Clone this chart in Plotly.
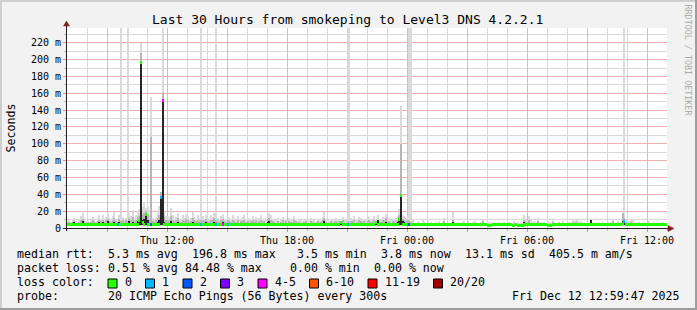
import plotly.graph_objects as go
import pandas as pd

# ---------------- data (values in milliseconds, one per 5-minute step) ----------------
START = "2025-12-11 07:00"
END = "2025-12-12 13:00"

median_ms = [
    4.2, 4.2, 4.1, 4.2, 4.3, 4.2, 4.2, 4.1, 4.2, 4.2, 4.3, 4.2, 4.2, 4.2, 4.1, 4.2, 4.4, 4.2, 4.2, 4.2,
    4.2, 4.3, 4.2, 4.2, 4.1, 4.2, 4.6, 4.2, 4.2, 4.3, 4.2, 4.2, 4.5, 4.2, 4.2, 4.2, 4.1, 4.2, 4.3, 4.2,
    4.2, 4.3, 4.4, 9.5, 197.0, 6.0, 4.6, 16.0, 4.3, 4.2, 4.2, 4.1, 4.2, 4.3, 4.2, 4.4, 36.0, 152.0, 4.3, 4.2,
    4.2, 4.2, 4.1, 4.2, 4.2, 4.2, 4.3, 4.2, 4.2, 4.2, 4.1, 4.2, 4.2, 4.2, 4.2, 4.3, 4.2, 4.2, 4.1, 4.2,
    4.2, 4.2, 4.2, 4.3, 4.2, 4.2, 4.1, 4.2, 4.2, 4.2, 4.2, 4.3, 4.2, 4.2, 4.2, 4.1, 4.2, 4.2, 4.2, 4.2,
    4.2, 4.1, 4.2, 4.2, 4.2, 4.3, 4.2, 4.2, 4.1, 4.2, 4.2, 4.2, 4.2, 4.1, 4.2, 4.2, 4.3, 4.2, 4.2, 4.2,
    4.2, 4.3, 4.2, 4.2, 4.1, 4.2, 4.2, 4.2, 4.2, 4.2, 4.1, 4.2, 4.2, 4.2, 4.3, 4.2, 4.2, 4.1, 4.2, 4.2,
    4.2, 4.2, 4.2, 4.1, 4.2, 4.2, 4.2, 4.3, 4.2, 4.2, 4.2, 4.2, 4.1, 4.2, 4.2, 4.2, 4.2, 4.2, 4.3, 4.2,
    4.2, 4.2, 4.1, 4.2, 6.0, 4.3, 4.2, 4.2, 4.2, 4.2, 4.2, 4.1, 4.2, 4.2, 4.2, 4.2, 4.3, 4.2, 4.2, 4.2,
    4.2, 4.2, 4.2, 4.1, 4.2, 6.3, 4.2, 4.2, 4.2, 4.3, 4.2, 4.2, 4.2, 4.1, 4.2, 4.2, 4.2, 4.2, 4.3, 10.5,
    38.5, 4.3, 4.2, 4.2, 4.1, 4.1, 4.1, 4.1, 4.1, 4.1, 4.1, 4.1, 4.1, 4.1, 4.1, 4.1, 4.1, 4.1, 4.1, 4.1,
    4.1, 4.1, 4.0, 4.1, 4.1, 4.1, 4.1, 4.1, 4.0, 4.1, 4.1, 4.1, 4.1, 4.1, 4.1, 4.0, 4.1, 4.1, 4.1, 4.1,
    4.1, 4.1, 4.1, 4.1, 4.1, 4.0, 4.1, 4.1, 4.1, 4.1, 4.1, 4.1, 3.5, 3.5, 3.5, 4.1, 4.1, 4.1, 4.1, 4.1,
    4.1, 4.1, 4.1, 4.1, 4.1, 4.1, 4.1, 3.5, 3.5, 4.1, 3.5, 3.5, 3.5, 3.5, 4.1, 4.1, 4.1, 4.1, 4.1, 4.1,
    4.1, 4.1, 4.1, 4.1, 4.0, 4.1, 4.1, 4.1, 3.5, 3.5, 3.5, 4.1, 4.1, 4.1, 4.1, 4.1, 4.1, 4.1, 4.0, 4.1,
    4.1, 4.1, 4.1, 4.1, 4.1, 4.1, 4.0, 4.1, 4.1, 4.1, 4.1, 4.1, 4.1, 4.1, 4.1, 4.1, 4.0, 4.1, 4.1, 4.1,
    4.1, 4.1, 4.1, 4.1, 4.1, 4.1, 4.1, 4.1, 4.1, 4.1, 4.1, 4.1, 4.1, 4.8, 7.5, 4.1, 4.1, 4.1, 4.1, 4.1,
    4.1, 4.1, 4.1, 4.0, 4.1, 4.1, 4.1, 4.1, 4.1, 4.1, 4.1, 4.1, 4.1, 4.1, 4.1, 4.1, 4.0, 4.1, 4.1, 4.1,
]

loss_count = [
    0, 0, 0, 0, 0, 0, 0, 0, 0, 0, 0, 0, 0, 0, 0, 0, 0, 0, 0, 0,
    0, 0, 0, 0, 0, 0, 0, 0, 0, 0, 1, 0, 0, 0, 0, 0, 0, 0, 0, 0,
    0, 0, 0, 0, 0, 0, 0, 0, 0, 0, 2, 0, 0, 0, 0, 0, 1, 5, 0, 0,
    0, 0, 0, 0, 0, 0, 0, 0, 0, 0, 0, 0, 0, 0, 0, 0, 0, 0, 0, 0,
    1, 0, 0, 0, 0, 0, 0, 0, 0, 1, 0, 0, 0, 4, 0, 0, 1, 0, 0, 0,
    0, 0, 0, 0, 0, 0, 0, 0, 0, 0, 0, 0, 0, 0, 0, 0, 0, 0, 0, 0,
    0, 0, 0, 0, 0, 0, 0, 0, 0, 0, 0, 0, 0, 0, 0, 0, 0, 0, 0, 0,
    0, 0, 0, 0, 0, 0, 0, 0, 0, 0, 0, 0, 0, 0, 0, 0, 0, 0, 0, 0,
    0, 0, 0, 0, 0, 0, 0, 0, 1, 0, 0, 0, 0, 0, 0, 0, 0, 0, 0, 0,
    0, 0, 0, 0, 0, 0, 0, 0, 0, 0, 0, 0, 0, 0, 0, 0, 0, 0, 0, 0,
    0, 0, 0, 0, 1, 2, 0, 0, 0, 0, 0, 0, 0, 0, 0, 0, 0, 0, 0, 0,
    0, 0, 0, 0, 0, 0, 0, 0, 0, 0, 0, 0, 0, 0, 0, 0, 0, 0, 0, 0,
    0, 0, 0, 0, 0, 0, 0, 0, 0, 0, 0, 0, 0, 0, 0, 0, 0, 0, 0, 0,
    0, 0, 0, 0, 0, 0, 0, 0, 0, 0, 0, 0, 0, 0, 0, 0, 0, 0, 0, 0,
    0, 0, 0, 0, 0, 0, 0, 0, 0, 0, 0, 0, 0, 0, 0, 0, 0, 0, 0, 0,
    0, 0, 0, 0, 0, 0, 0, 0, 0, 0, 0, 0, 0, 0, 0, 0, 0, 0, 0, 0,
    0, 0, 0, 0, 0, 0, 0, 0, 0, 0, 0, 0, 0, 0, 1, 0, 0, 0, 0, 0,
    0, 0, 0, 0, 0, 0, 0, 0, 0, 0, 0, 0, 0, 0, 0, 0, 0, 0, 0, 0,
]

ping_min_ms = [
    3.6, 3.6, 3.5, 3.6, 3.7, 3.6, 3.6, 3.5, 3.6, 3.6, 3.7, 3.6, 3.6, 3.6, 3.5, 3.6, 3.7, 3.6, 3.6, 3.6,
    3.6, 3.7, 3.6, 3.6, 3.5, 3.6, 3.7, 3.6, 3.6, 3.7, 3.6, 3.6, 3.7, 3.6, 3.6, 3.6, 3.5, 3.6, 3.7, 3.6,
    3.6, 3.7, 3.7, 3.8, 4.0, 3.8, 3.7, 3.9, 3.7, 3.6, 3.6, 3.5, 3.6, 3.7, 3.6, 3.7, 3.9, 4.0, 3.7, 3.6,
    3.6, 3.6, 3.5, 3.6, 3.6, 3.6, 3.7, 3.6, 3.6, 3.6, 3.5, 3.6, 3.6, 3.6, 3.6, 3.7, 3.6, 3.6, 3.5, 3.6,
    3.6, 3.6, 3.6, 3.7, 3.6, 3.6, 3.5, 3.6, 3.6, 3.6, 3.6, 3.7, 3.6, 3.6, 3.6, 3.5, 3.6, 3.6, 3.6, 3.6,
    3.6, 3.5, 3.6, 3.6, 3.6, 3.7, 3.6, 3.6, 3.5, 3.6, 3.6, 3.6, 3.6, 3.5, 3.6, 3.6, 3.7, 3.6, 3.6, 3.6,
    3.6, 3.7, 3.6, 3.6, 3.5, 3.6, 3.6, 3.6, 3.6, 3.6, 3.5, 3.6, 3.6, 3.6, 3.7, 3.6, 3.6, 3.5, 3.6, 3.6,
    3.6, 3.6, 3.6, 3.5, 3.6, 3.6, 3.6, 3.7, 3.6, 3.6, 3.6, 3.6, 3.5, 3.6, 3.6, 3.6, 3.6, 3.6, 3.7, 3.6,
    3.6, 3.6, 3.5, 3.6, 3.8, 3.7, 3.6, 3.6, 3.6, 3.6, 3.6, 3.5, 3.6, 3.6, 3.6, 3.6, 3.7, 3.6, 3.6, 3.6,
    3.6, 3.6, 3.6, 3.5, 3.6, 3.8, 3.6, 3.6, 3.6, 3.7, 3.6, 3.6, 3.6, 3.5, 3.6, 3.6, 3.6, 3.6, 3.7, 3.8,
    3.9, 3.7, 3.6, 3.6, 3.5, 3.5, 3.5, 3.5, 3.5, 3.5, 3.5, 3.5, 3.5, 3.5, 3.5, 3.5, 3.5, 3.5, 3.5, 3.5,
    3.5, 3.5, 3.4, 3.5, 3.5, 3.5, 3.5, 3.5, 3.4, 3.5, 3.5, 3.5, 3.5, 3.5, 3.5, 3.4, 3.5, 3.5, 3.5, 3.5,
    3.5, 3.5, 3.5, 3.5, 3.5, 3.4, 3.5, 3.5, 3.5, 3.5, 3.5, 3.5, 3.3, 3.3, 3.3, 3.5, 3.5, 3.5, 3.5, 3.5,
    3.5, 3.5, 3.5, 3.5, 3.5, 3.5, 3.5, 3.3, 3.3, 3.5, 3.3, 3.3, 3.3, 3.3, 3.5, 3.5, 3.5, 3.5, 3.5, 3.5,
    3.5, 3.5, 3.5, 3.5, 3.4, 3.5, 3.5, 3.5, 3.3, 3.3, 3.3, 3.5, 3.5, 3.5, 3.5, 3.5, 3.5, 3.5, 3.4, 3.5,
    3.5, 3.5, 3.5, 3.5, 3.5, 3.5, 3.4, 3.5, 3.5, 3.5, 3.5, 3.5, 3.5, 3.5, 3.5, 3.5, 3.4, 3.5, 3.5, 3.5,
    3.5, 3.5, 3.5, 3.5, 3.5, 3.5, 3.5, 3.5, 3.5, 3.5, 3.5, 3.5, 3.5, 3.6, 3.7, 3.5, 3.5, 3.5, 3.5, 3.5,
    3.5, 3.5, 3.5, 3.4, 3.5, 3.5, 3.5, 3.5, 3.5, 3.5, 3.5, 3.5, 3.5, 3.5, 3.5, 3.5, 3.4, 3.5, 3.5, 3.5,
]

ping_max_ms = [
    8, 9, 7, 10, 12, 8, 7, 9, 14, 18, 11, 8, 9, 7, 10, 13, 9, 8, 12, 16,
    11, 15, 9, 13, 17, 12, 10, 14, 19, 11, 9, 16, 300, 13, 10, 12, 300, 18, 14, 21,
    12, 15, 20, 22, 220, 25, 30, 24, 26, 14, 156, 12, 10, 13, 18, 26, 43, 300, 20, 14,
    14, 12, 24, 16, 10, 13, 18, 11, 9, 15, 12, 17, 14, 10, 12, 19, 13, 11, 16, 12,
    300, 14, 11, 16, 12, 10, 15, 13, 18, 300, 12, 10, 14, 17, 11, 9, 13, 12, 10, 15,
    12, 10, 14, 9, 11, 13, 15, 10, 12, 9, 11, 14, 10, 13, 9, 12, 16, 10, 11, 9,
    17, 18, 15, 11, 10, 9, 12, 8, 10, 13, 9, 11, 8, 12, 10, 9, 14, 11, 8, 10,
    9, 8, 10, 11, 8, 9, 12, 10, 9, 8, 11, 9, 10, 13, 19, 10, 9, 8, 11, 9,
    10, 12, 9, 11, 8, 13, 10, 9, 300, 300, 12, 11, 14, 9, 10, 13, 12, 10, 11, 9,
    11, 13, 10, 12, 14, 9, 15, 11, 10, 13, 12, 17, 10, 12, 9, 11, 10, 12, 14, 22,
    145, 16, 14, 12, 15, 300, 300, 9, 7, 6, 8, 7, 6, 9, 7, 6, 8, 6, 7, 6,
    6, 7, 6, 8, 6, 7, 12, 6, 7, 6, 6, 19, 8, 6, 7, 6, 6, 7, 8, 6,
    6, 7, 6, 6, 8, 7, 6, 6, 7, 11, 6, 6, 7, 6, 6, 6, 7, 6, 6, 7,
    6, 6, 7, 6, 6, 7, 6, 6, 8, 6, 7, 6, 7, 6, 15, 10, 8, 14, 9, 7,
    8, 7, 12, 6, 7, 6, 7, 6, 6, 7, 6, 9.5, 7, 6, 6, 7, 6, 8, 6, 6,
    6, 7, 6, 9, 8, 10, 9, 7, 8, 6, 7, 6, 7, 6, 9, 7, 6, 6, 7, 6,
    6, 7, 6, 6, 7, 6, 7, 11, 6, 6, 8, 6, 7, 18, 300, 10, 7, 8, 10, 9,
    7, 6, 6, 7, 6, 6, 7, 6, 6, 8, 6, 6, 7, 6, 6, 6, 6, 7, 6, 6,
]

smoke_mid_ms = [
    6, 7, 5, 7, 8, 6, 5, 7, 9, 11, 8, 6, 7, 5, 7, 9, 7, 6, 8, 10,
    8, 10, 7, 9, 11, 8, 7, 10, 12, 8, 7, 11, 8, 9, 7, 9, 8, 12, 10, 13,
    8, 10, 13, 14, 208, 16, 18, 20, 17, 9, 108, 8, 7, 9, 12, 16, 43, 160, 13, 9,
    9, 8, 14, 10, 7, 9, 12, 8, 7, 10, 8, 11, 9, 7, 8, 12, 9, 8, 10, 8,
    9, 9, 8, 11, 8, 7, 10, 9, 12, 9, 8, 7, 9, 11, 8, 7, 9, 8, 7, 10,
    8, 7, 9, 6, 8, 9, 10, 7, 8, 6, 8, 9, 7, 9, 6, 8, 10, 7, 8, 6,
    11, 12, 10, 8, 7, 6, 8, 6, 7, 9, 6, 8, 6, 8, 7, 6, 9, 8, 6, 7,
    6, 6, 7, 8, 6, 6, 8, 7, 6, 6, 8, 6, 7, 9, 12, 7, 6, 6, 8, 6,
    7, 8, 6, 8, 6, 9, 7, 6, 8, 7, 8, 8, 9, 6, 7, 9, 8, 7, 8, 6,
    8, 9, 7, 8, 9, 6, 10, 8, 7, 9, 8, 12, 7, 8, 6, 8, 7, 8, 10, 15,
    100, 11, 10, 8, 10, 8, 7, 6, 5, 5, 6, 5, 5, 6, 5, 5, 6, 5, 5, 5,
    5, 5, 5, 6, 5, 5, 8, 5, 5, 5, 5, 10, 6, 5, 5, 5, 5, 5, 6, 5,
    5, 5, 5, 5, 6, 5, 5, 5, 5, 8, 5, 5, 5, 5, 5, 5, 5, 5, 5, 5,
    5, 5, 5, 5, 5, 5, 5, 5, 6, 5, 5, 5, 5, 5, 10, 7, 6, 9, 6, 5,
    6, 5, 8, 5, 5, 5, 5, 5, 5, 5, 5, 7, 5, 5, 5, 5, 5, 6, 5, 5,
    5, 5, 5, 7, 6, 7, 6, 5, 6, 5, 5, 5, 5, 5, 8, 5, 5, 5, 5, 5,
    5, 5, 5, 5, 5, 5, 5, 8, 5, 5, 6, 5, 5, 18, 12, 7, 5, 6, 7, 6,
    5, 5, 5, 5, 5, 5, 5, 5, 5, 6, 5, 5, 5, 5, 5, 5, 5, 5, 5, 5,
]

smoke_dark_ms = [
    5, 5, 5, 6, 7, 5, 5, 5, 6, 8, 5, 5, 5, 5, 5, 6, 5, 5, 6, 7,
    5, 7, 5, 6, 8, 5, 5, 6, 7, 5, 5, 7, 5, 6, 5, 5, 5, 8, 6, 7,
    5, 6, 8, 10, 197, 9, 11, 16, 9, 5, 6, 5, 5, 6, 7, 9, 36, 152, 7, 5,
    6, 5, 8, 6, 5, 5, 7, 5, 5, 6, 5, 6, 5, 5, 5, 7, 5, 5, 6, 5,
    5, 5, 5, 7, 5, 5, 6, 5, 7, 5, 5, 5, 5, 7, 5, 5, 5, 5, 5, 6,
    5, 5, 6, 5, 5, 5, 6, 5, 5, 5, 5, 6, 5, 5, 5, 5, 6, 5, 5, 5,
    7, 8, 6, 5, 5, 5, 5, 5, 5, 6, 5, 5, 5, 5, 5, 5, 6, 5, 5, 5,
    5, 5, 5, 5, 5, 5, 5, 5, 5, 5, 5, 5, 5, 6, 8, 5, 5, 5, 5, 5,
    5, 5, 5, 5, 7, 6, 5, 5, 5, 5, 5, 5, 6, 5, 5, 6, 5, 5, 5, 5,
    5, 5, 5, 5, 5, 6, 9, 5, 5, 6, 5, 7, 5, 5, 5, 5, 5, 5, 7, 12,
    38.5, 8, 7, 5, 6, 5, 5, 5, 4.5, 4.5, 5, 4.5, 4.5, 5, 4.5, 4.5, 5, 4.5, 4.5, 4.5,
    4.5, 4.5, 4.5, 4.5, 4.5, 4.5, 6, 4.5, 4.5, 4.5, 4.5, 7, 4.5, 4.5, 4.5, 4.5, 4.5, 4.5, 4.5, 4.5,
    4.5, 4.5, 4.5, 4.5, 4.5, 4.5, 4.5, 4.5, 4.5, 6, 4.5, 4.5, 4.5, 4.5, 4.5, 4.5, 4.5, 4.5, 4.5, 4.5,
    4.5, 4.5, 4.5, 4.5, 4.5, 4.5, 4.5, 4.5, 4.5, 4.5, 4.5, 4.5, 4.5, 4.5, 7, 4.5, 4.5, 6, 4.5, 4.5,
    4.5, 4.5, 4.5, 4.5, 4.5, 4.5, 4.5, 4.5, 4.5, 4.5, 4.5, 4.5, 4.5, 4.5, 4.5, 4.5, 4.5, 4.5, 4.5, 4.5,
    4.5, 4.5, 4.5, 4.5, 4.5, 4.5, 4.5, 4.5, 4.5, 4.5, 4.5, 4.5, 4.5, 4.5, 9, 4.5, 4.5, 4.5, 4.5, 4.5,
    4.5, 4.5, 4.5, 4.5, 4.5, 4.5, 4.5, 4.5, 4.5, 4.5, 4.5, 4.5, 4.5, 8, 7.5, 4.5, 4.5, 4.5, 4.5, 4.5,
    4.5, 4.5, 4.5, 4.5, 4.5, 4.5, 4.5, 4.5, 4.5, 4.5, 4.5, 4.5, 4.5, 4.5, 4.5, 4.5, 4.5, 4.5, 4.5, 4.5,
]

# loss colour legend
loss_labels = ["0", "1", "2", "3", "4-5", "6-10", "11-19", "20/20"]
loss_colors = ["#26ff00", "#00b8ff", "#0059ff", "#7e00ff", "#ff00ff", "#ff5500", "#ff0000", "#a10000"]

# axis ticks
x_tick_times = ["2025-12-11 09:00", "2025-12-11 12:00", "2025-12-11 15:00", "2025-12-11 18:00",
                "2025-12-11 21:00", "2025-12-12 00:00", "2025-12-12 03:00", "2025-12-12 06:00",
                "2025-12-12 09:00", "2025-12-12 12:00"]
x_tick_text = ["", "Thu 12:00", "", "Thu 18:00", "", "Fri 00:00", "", "Fri 06:00", "", "Fri 12:00"]
y_tick_vals = [0, 20, 40, 60, 80, 100, 120, 140, 160, 180, 200, 220]
y_tick_text = ["0", "20 m", "40 m", "60 m", "80 m", "100 m", "120 m", "140 m", "160 m",
               "180 m", "200 m", "220 m"]
y_minor_vals = [10, 30, 50, 70, 90, 110, 130, 150, 170, 190, 210, 230]

title_text = "Last 30 Hours from smokeping to Level3 DNS 4.2.2.1"
# statistics rows: (text, column in the monospace legend grid)
median_row = [("median rtt:", 0), ("5.3 ms avg", 13), ("196.8 ms max", 25), ("3.5 ms min", 40),
              ("3.8 ms now", 52), ("13.1 ms sd", 64), ("405.5 m am/s", 76)]
loss_row = [("packet loss:", 0), ("0.51 % avg", 13), ("84.48 % max", 24), ("0.00 % min", 39),
            ("0.00 % now", 51)]
probe_row = [("probe:", 0), ("20 ICMP Echo Pings (56 Bytes) every 300s", 13)]
date_text = "Fri Dec 12 12:59:47 2025"

# ---------------- figure ----------------
for arr in (median_ms, loss_count, ping_min_ms, ping_max_ms, smoke_mid_ms, smoke_dark_ms):
    assert len(arr) == 360, len(arr)

W, H = 697, 310
L, R, T, B = 67, 667, 28, 228  # plot area in pixels
Y_TOP = 237.5
FONT = "DejaVu Sans Mono"
COL_W = 7.0  # legend character cell width in px
TXT_X0 = 16

times = pd.date_range(START, periods=len(median_ms), freq="5min") + pd.Timedelta(seconds=150)
BAR_W = 300000  # ms


def px_x(px):
    return (px - L) / (R - L)


def px_y(py):
    return (B - py) / (B - T)


fig = go.Figure()


def smoke(top, color):
    fig.add_trace(go.Bar(
        x=times, base=ping_min_ms, y=[t - b for t, b in zip(top, ping_min_ms)],
        width=BAR_W, marker=dict(color=color, line=dict(width=0)),
        hoverinfo="skip", showlegend=False))


smoke(ping_max_ms, "#dadada")
smoke(smoke_mid_ms, "#b6b6b6")
smoke(smoke_dark_ms, "#262626")


def bucket(n):
    if n <= 3:
        return n
    if n <= 5:
        return 4
    if n <= 10:
        return 5
    if n <= 19:
        return 6
    return 7


half = 1.5 * Y_TOP / (B - T)  # median drawn as 3 px tall block
for k, col in enumerate(loss_colors):
    idx = [i for i, n in enumerate(loss_count) if bucket(n) == k]
    if not idx:
        continue
    fig.add_trace(go.Bar(
        x=[times[i] for i in idx], base=[median_ms[i] - half for i in idx],
        y=[2 * half] * len(idx), width=BAR_W,
        marker=dict(color=col, line=dict(width=0)),
        hoverinfo="skip", showlegend=False))

# dotted rrdtool grid rendered as light solid lines (average tone of the dots)
minor_grid = "#d9d9d9"
major_grid = "#f2b0b0"

hours = pd.date_range(START, END, freq="1h")
major_set = set(pd.to_datetime(x_tick_times))
x_minor = [h for h in hours if h not in major_set]

fig.update_layout(
    width=W, height=H, autosize=False,
    margin=dict(l=L, r=W - R, t=T, b=H - B, pad=0),
    paper_bgcolor="#f2f2f2", plot_bgcolor="#ffffff",
    barmode="overlay", bargap=0, showlegend=False,
    font=dict(family=FONT, size=10, color="#000000"),
)

fig.update_xaxes(
    type="date", range=[START, END], fixedrange=True,
    tickmode="array", tickvals=x_tick_times, ticktext=x_tick_text,
    tickfont=dict(family=FONT, size=10, color="#000000"),
    showgrid=True, gridcolor=major_grid, gridwidth=1,
    ticks="outside", ticklen=3, tickcolor="#e68a8a",
    minor=dict(tickvals=x_minor, showgrid=True, gridcolor=minor_grid,
               ticks="outside", ticklen=2, tickcolor="#c0c0c0"),
    showline=False, zeroline=False,
)
fig.update_yaxes(
    range=[0, Y_TOP], fixedrange=True,
    tickmode="array", tickvals=y_tick_vals, ticktext=y_tick_text,
    tickfont=dict(family=FONT, size=10, color="#000000"),
    showgrid=True, gridcolor=major_grid, gridwidth=1,
    ticks="outside", ticklen=3, tickcolor="#e68a8a",
    minor=dict(tickvals=y_minor_vals, showgrid=True, gridcolor=minor_grid,
               ticks="outside", ticklen=2, tickcolor="#c0c0c0"),
    showline=False, zeroline=False,
)

shapes = []
# axis lines
shapes.append(dict(type="line", xref="paper", yref="paper",
                   x0=px_x(63), x1=px_x(669), y0=px_y(228.5), y1=px_y(228.5),
                   line=dict(color="#1f1f1f", width=1)))
shapes.append(dict(type="line", xref="paper", yref="paper",
                   x0=px_x(66.5), x1=px_x(66.5), y0=px_y(231), y1=px_y(24),
                   line=dict(color="#1f1f1f", width=1)))
# arrows
arrow = "#801f1f"
shapes.append(dict(type="path", xref="paper", yref="paper",
                   path=f"M {px_x(674)} {px_y(228.5)} L {px_x(668)} {px_y(225.5)} L {px_x(668)} {px_y(231.5)} Z",
                   fillcolor=arrow, line=dict(color=arrow, width=0.5)))
shapes.append(dict(type="path", xref="paper", yref="paper",
                   path=f"M {px_x(66.5)} {px_y(21)} L {px_x(63.5)} {px_y(26)} L {px_x(69.5)} {px_y(26)} Z",
                   fillcolor=arrow, line=dict(color=arrow, width=0.5)))
# 3D frame
shade_a, shade_b = "#cfcfcf", "#9e9e9e"
for (x0, y0, x1, y1, c) in [(0, 0, W, 2, shade_a), (0, 0, 2, H, shade_a),
                            (W - 2, 0, W, H, shade_b), (0, H - 2, W, H, shade_b)]:
    shapes.append(dict(type="rect", xref="paper", yref="paper",
                       x0=px_x(x0), x1=px_x(x1), y0=px_y(y0), y1=px_y(y1),
                       fillcolor=c, line=dict(width=0), layer="above"))

annotations = []


def ann(text, x, y, size=11.6, xanchor="left", color="#000000", angle=0):
    annotations.append(dict(
        text=text.replace(" ", "\u00a0"), x=px_x(x), y=px_y(y), xref="paper", yref="paper",
        xanchor=xanchor, yanchor="middle", showarrow=False, textangle=angle,
        font=dict(family=FONT, size=size, color=color), borderpad=0))


ann(title_text, 347.5, 19.5, size=13, xanchor="center")
ann("Seconds", 10.5, 128, xanchor="center", angle=-90)
ann("RRDTOOL / TOBI OETIKER", 687.5, 60, size=8.4, xanchor="center", color="#ababab", angle=90)
for row, yy in ((median_row, 254.3), (loss_row, 268.3), (probe_row, 296.3)):
    for txt, col in row:
        ann(txt, TXT_X0 + col * COL_W, yy)
ann("loss color:", TXT_X0, 282.3)
ann(date_text, 681, 296.3, xanchor="right")

# loss colour boxes with labels
bx = 108
for lab, col in zip(loss_labels, loss_colors):
    shapes.append(dict(type="rect", xref="paper", yref="paper",
                       x0=px_x(bx), x1=px_x(bx + 9), y0=px_y(279), y1=px_y(288),
                       fillcolor=col, line=dict(color="#000000", width=1)))
    lx = bx + 15.5
    ann(lab, lx, 282.3)
    bx = lx + COL_W * len(lab) + 15

fig.update_layout(shapes=shapes, annotations=annotations)
fig.write_html("out.html")
